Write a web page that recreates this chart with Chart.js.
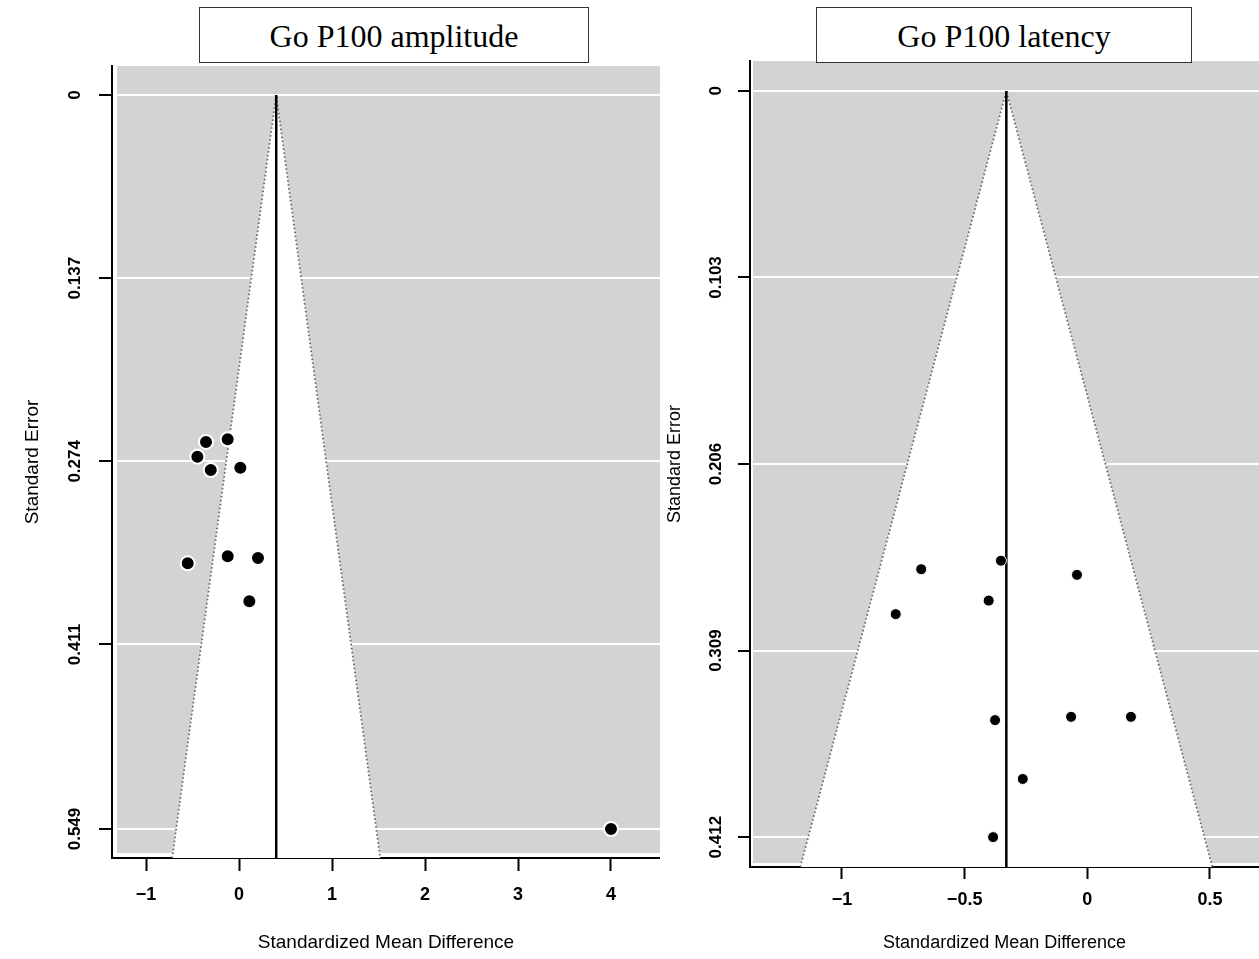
<!DOCTYPE html>
<html>
<head>
<meta charset="utf-8">
<script src="https://cdn.jsdelivr.net/npm/chart.js"></script>
<style>
html,body{margin:0;padding:0;background:#fff;}
body{width:1259px;height:959px;position:relative;overflow:hidden;}
canvas{position:absolute;top:0;}
#cL{left:0;}
#cR{left:660px;}
.tbox{position:absolute;top:7px;height:51px;padding-top:3px;border:1px solid #333;background:#fff;
  font-family:"Liberation Serif","Times New Roman",serif;font-size:32px;line-height:51px;text-align:center;color:#000;z-index:2;white-space:nowrap;}
</style>
</head>
<body>
<canvas id="cL" width="660" height="959"></canvas>
<canvas id="cR" width="599" height="959"></canvas>
<div class="tbox" style="left:199px;width:388px;">Go P100 amplitude</div>
<div class="tbox" style="left:816px;width:374px;">Go P100 latency</div>
<script>
// ---- data ----
const xAxisTitle = 'Standardized Mean Difference';
const yAxisTitle = 'Standard Error';

// Go P100 amplitude
const ampSMD = [-0.355, -0.122, -0.448, -0.304, 0.014, -0.122, 0.204, -0.552, 0.111, 4.0];
const ampSE  = [0.2595, 0.2575, 0.2705, 0.2805, 0.2788, 0.345, 0.3463, 0.3503, 0.3787, 0.549];
const ampEstimate = 0.40;
const ampYTicks = [0, 0.137, 0.274, 0.411, 0.549];
const ampYLabels = ['0', '0.137', '0.274', '0.411', '0.549'];
const ampXTicks = [-1, 0, 1, 2, 3, 4];
const ampXLabels = ['\u22121', '0', '1', '2', '3', '4'];

// Go P100 latency
const latSMD = [-0.677, -0.352, -0.042, -0.402, -0.781, -0.376, -0.066, 0.178, -0.263, -0.384];
const latSE  = [0.2641, 0.2594, 0.2672, 0.2814, 0.2889, 0.3474, 0.3456, 0.3456, 0.3799, 0.412];
const latEstimate = -0.33;
const latYTicks = [0, 0.103, 0.206, 0.309, 0.412];
const latYLabels = ['0', '0.103', '0.206', '0.309', '0.412'];
const latXTicks = [-1, -0.5, 0, 0.5];
const latXLabels = ['\u22121', '\u22120.5', '0', '0.5'];

const Z = 1.96;
function funnelPoints(est, seBottom) {
  return [
    {x: est - Z * seBottom, y: seBottom},
    {x: est, y: 0},
    {x: est + Z * seBottom, y: seBottom}
  ];
}

const SANS = '"Liberation Sans", Arial, Helvetica, sans-serif';

function build(id, c) {
  const grayBg = {
    id: 'grayBg',
    beforeDraw(chart) {
      const a = chart.chartArea, ctx = chart.ctx;
      ctx.save();
      ctx.fillStyle = '#d3d3d3';
      ctx.fillRect(a.left + c.insetL, a.top, a.right - a.left - c.insetL, a.bottom - a.top - c.insetB);
      ctx.restore();
    }
  };
  return new Chart(document.getElementById(id), {
    type: 'scatter',
    data: {
      datasets: [
        {
          type: 'scatter',
          data: c.smd.map((x, i) => ({x: x, y: c.se[i]})),
          backgroundColor: '#000',
          borderColor: '#fff',
          borderWidth: c.pBorder,
          pointRadius: c.pRadius,
          pointHoverRadius: c.pRadius,
          order: 0
        },
        {
          type: 'line',
          data: [{x: c.est, y: 0}, {x: c.est, y: c.yMax}],
          borderColor: '#000',
          borderWidth: 2.5,
          pointRadius: 0,
          fill: false,
          order: 1
        },
        {
          type: 'line',
          data: funnelPoints(c.est, c.yMax),
          borderColor: '#666666',
          borderWidth: 1.8,
          borderDash: [1.5, 2.5],
          backgroundColor: '#fff',
          fill: 'shape',
          pointRadius: 0,
          tension: 0,
          order: 2
        }
      ]
    },
    options: {
      responsive: false,
      animation: false,
      events: [],
      layout: {autoPadding: false, padding: {left: 0, top: c.top, right: 0, bottom: 0}},
      plugins: {legend: {display: false}, tooltip: {enabled: false}},
      scales: {
        x: {
          type: 'linear',
          min: c.xMin, max: c.xMax,
          afterBuildTicks: s => { s.ticks = c.xTicks.map(v => ({value: v})); },
          afterFit: s => { s.height = c.xH; },
          ticks: {
            callback: (v, i) => c.xLabels[i],
            font: {family: SANS, size: 18, weight: 'bold'},
            color: '#000', padding: c.xTickPad, minRotation: 0, maxRotation: 0, autoSkip: false
          },
          grid: {display: true, drawOnChartArea: false, drawTicks: true, tickLength: c.tl, tickWidth: 2, tickColor: '#000'},
          border: {display: true, color: '#000', width: 2},
          title: {display: true, text: xAxisTitle, color: '#000',
            font: {family: SANS, size: c.titleSize}, padding: {top: 0, bottom: c.xTitlePad}}
        },
        y: {
          type: 'linear',
          reverse: true,
          min: c.yMin, max: c.yMax,
          afterBuildTicks: s => { s.ticks = c.yTicks.map(v => ({value: v})); },
          afterFit: s => { s.width = c.yW; },
          ticks: {
            callback: (v, i) => c.yLabels[i],
            font: {family: SANS, size: 17, weight: 'bold'},
            color: '#000', padding: c.yTickPad, minRotation: 90, maxRotation: 90,
            crossAlign: 'center', autoSkip: false
          },
          grid: {color: '#fff', lineWidth: 2, drawTicks: true, tickLength: c.tl, tickWidth: 2, tickColor: '#000'},
          border: {display: true, color: '#000', width: 2},
          title: {display: true, text: yAxisTitle, color: '#000',
            font: {family: SANS, size: c.titleSize}, padding: {top: c.yTitlePad, bottom: 0}}
        }
      }
    },
    plugins: [grayBg]
  });
}

build('cL', {
  smd: ampSMD, se: ampSE, est: ampEstimate,
  xMin: -1.366, xMax: 4.527, yMin: -0.0217, yMax: 0.5707,
  xTicks: ampXTicks, xLabels: ampXLabels, yTicks: ampYTicks, yLabels: ampYLabels,
  top: 66, xH: 101, yW: 112, tl: 13,
  xTickPad: 13, yTickPad: 2, xTitlePad: 5, yTitlePad: 21, titleSize: 19,
  insetL: 5, insetB: 5, pRadius: 7, pBorder: 2
});

build('cR', {
  smd: latSMD, se: latSE, est: latEstimate,
  xMin: -1.375, xMax: 0.700, yMin: -0.0165, yMax: 0.4285,
  xTicks: latXTicks, xLabels: latXLabels, yTicks: latYTicks, yLabels: latYLabels,
  top: 61, xH: 92, yW: 90, tl: 12,
  xTickPad: 10, yTickPad: 0, xTitlePad: 5, yTitlePad: 4, titleSize: 18,
  insetL: 3, insetB: 4, pRadius: 5.5, pBorder: 1
});
</script>
</body>
</html>
